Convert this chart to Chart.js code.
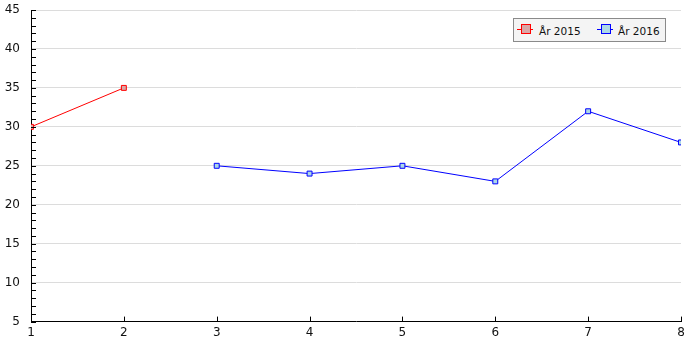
<!DOCTYPE html>
<html>
<head>
<meta charset="utf-8">
<script src="https://cdn.jsdelivr.net/npm/chart.js@4/dist/chart.umd.min.js"></script>
<style>
  body { margin: 0; background: #fff; }
  #wrap { position: relative; width: 700px; height: 350px; }
  #legend {
    position: absolute; left: 513px; top: 18px; width: 151px; height: 22px;
    border: 1px solid #8a8a8a; background: #f4f4f4;
    font: 10.5px 'DejaVu Sans', sans-serif; color: #111; white-space: nowrap;
  }
  #legend div { position: absolute; box-sizing: border-box; }
  .ln { top: 10px; width: 16px; height: 1px; }
  .sq { top: 5px; width: 10px; height: 10px; border: 1px solid; }
  .tx { top: 6px; line-height: 12px; }
</style>
</head>
<body>
<div id="wrap">
  <canvas id="chart" width="700" height="350"></canvas>
  <div id="legend">
    <div class="ln" style="left:3px;background:#ff0000"></div>
    <div class="sq" style="left:7px;border-color:#ff0000;background:#d9a7a7"></div>
    <div class="tx" style="left:25px">År 2015</div>
    <div class="ln" style="left:83px;background:#0000ff"></div>
    <div class="sq" style="left:87px;border-color:#0000ff;background:#add8e6"></div>
    <div class="tx" style="left:104px">År 2016</div>
  </div>
</div>
<script>
// data
const xs2015 = [1, 2];
const ys2015 = [30, 35];
const xs2016 = [3, 4, 5, 6, 7, 8];
const ys2016 = [25, 24, 25, 23, 32, 28];
const yTicks = [5, 10, 15, 20, 25, 30, 35, 40, 45];
const xTicks = [1, 2, 3, 4, 5, 6, 7, 8];

function pts(xs, ys) {
    return xs.map((x, i) => ({ x: x, y: ys[i] }));
}

// small inward tick marks, like the original
const innerTicks = {
    id: 'innerTicks',
    afterDraw(chart) {
        const ctx = chart.ctx;
        const xS = chart.scales.x, yS = chart.scales.y;
        const a = chart.chartArea;
        ctx.save();
        ctx.strokeStyle = '#000';
        ctx.lineWidth = 1;
        ctx.beginPath();
        for (let v = yTicks[0]; v <= yTicks[yTicks.length - 1]; v++) {
            const y = Math.round(yS.getPixelForValue(v)) + 0.5;
            ctx.moveTo(a.left, y);
            ctx.lineTo(a.left + 5, y);
        }
        xTicks.forEach(v => {
            const x = Math.round(xS.getPixelForValue(v)) + 0.5;
            ctx.moveTo(x, a.bottom);
            ctx.lineTo(x, a.bottom - 5);
        });
        ctx.stroke();
        ctx.restore();
    }
};

new Chart(document.getElementById('chart'), {
    type: 'line',
    data: {
        datasets: [
            {
                label: 'År 2015',
                data: pts(xs2015, ys2015),
                borderColor: '#ff0000',
                backgroundColor: '#d9a7a7',
                borderWidth: 1,
                pointStyle: 'rect',
                pointRadius: 3.5,
                pointBorderWidth: 1,
                tension: 0
            },
            {
                label: 'År 2016',
                data: pts(xs2016, ys2016),
                borderColor: '#0000ff',
                backgroundColor: '#add8e6',
                borderWidth: 1,
                pointStyle: 'rect',
                pointRadius: 3.5,
                pointBorderWidth: 1,
                tension: 0
            }
        ]
    },
    options: {
        responsive: false,
        animation: false,
        layout: { padding: { left: 4, right: 19, top: 10, bottom: 6 } },
        plugins: { legend: { display: false }, tooltip: { enabled: false } },
        scales: {
            x: {
                type: 'linear', min: 1, max: 8,
                afterBuildTicks: s => { s.ticks = xTicks.map(v => ({ value: v })); },
                afterFit: s => { s.paddingLeft = 0; s.paddingRight = 0; },
                grid: { drawOnChartArea: false, drawTicks: false },
                border: { color: '#000', width: 1 },
                ticks: { color: '#111', font: { family: 'DejaVu Sans', size: 12 }, padding: 4 }
            },
            y: {
                min: 5, max: 45,
                afterBuildTicks: s => { s.ticks = yTicks.map(v => ({ value: v })); },
                afterFit: s => { s.width = 27; s.paddingTop = 0; s.paddingBottom = 0; },
                grid: { color: '#dcdcdc', drawTicks: false },
                border: { color: '#000', width: 1 },
                ticks: { color: '#111', font: { family: 'DejaVu Sans', size: 12 }, padding: 11 }
            }
        }
    },
    plugins: [innerTicks]
});
</script>
</body>
</html>
